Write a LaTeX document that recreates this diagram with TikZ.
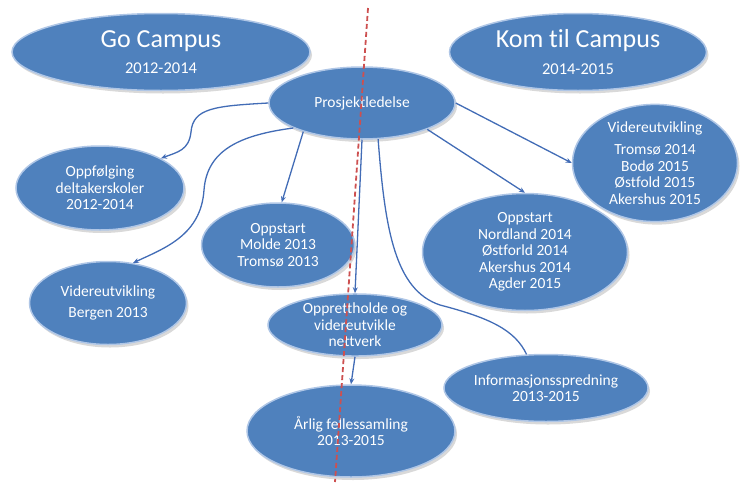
\documentclass[tikz,border=0pt]{standalone}
\usepackage{fontspec}
\setmainfont{Carlito}[Ligatures=NoCommon]
\usetikzlibrary{shapes.geometric,arrows.meta,shadows}
\definecolor{ovalblue}{RGB}{79,129,189}
\definecolor{ovalrim}{RGB}{175,198,230}
\definecolor{linkblue}{RGB}{66,108,182}
\definecolor{cutred}{RGB}{205,80,80}

\begin{document}
\begin{tikzpicture}[x=1pt,y=-1pt,
  oval/.style={ellipse, fill=ovalblue, draw=ovalrim, line width=1.5pt, text=white, inner sep=0pt, align=center,
    font=\fontsize{15.5}{16.5}\selectfont, drop shadow={opacity=0.3,shadow xshift=2pt,shadow yshift=-3pt}},
  link/.style={draw=linkblue, line width=1.3pt, -{Stealth[length=6pt,width=5pt]}},
  cut/.style={draw=cutred, line width=1.8pt, dash pattern=on 5pt off 3pt}]
\useasboundingbox (0,0) rectangle (743,482);

\node[oval, minimum width=298pt, minimum height=77pt] (go) at (161,52) {{\fontsize{26}{28}\selectfont Go Campus}\\[10pt]{\fontsize{16.5}{18}\selectfont 2012-2014}};
\node[oval, minimum width=257pt, minimum height=77pt] (kom) at (578,52) {{\fontsize{26}{28}\selectfont Kom til Campus}\\[10pt]{\fontsize{16.5}{18}\selectfont 2014-2015}};
\node[oval, minimum width=186pt, minimum height=72pt] (pl) at (362,103) {Prosjektledelse};
\node[oval, minimum width=168pt, minimum height=84pt] (oppf) at (100,188) {Oppfølging\\deltakerskoler\\2012-2014};
\node[oval, minimum width=153pt, minimum height=84pt] (molde) at (278,245) {Oppstart\\Molde 2013\\Tromsø 2013};
\node[oval, minimum width=157pt, minimum height=83pt] (bergen) at (108,303) {Videreutvikling\\[5pt]Bergen 2013};
\node[oval, minimum width=174pt, minimum height=60pt] (oppr) at (355,325) {Opprettholde og\\videreutvikle\\nettverk};
\node[oval, minimum width=208pt, minimum height=92pt] (arlig) at (351,431) {Årlig fellessamling\\2013-2015};
\node[oval, minimum width=205pt, minimum height=117pt] (nord) at (525,252) {Oppstart\\Nordland 2014\\Østforld 2014\\Akershus 2014\\Agder 2015};
\node[oval, minimum width=178pt, minimum height=67pt] (info) at (546,388) {Informasjonsspredning\\2013-2015};
\node[oval, minimum width=165pt, minimum height=107pt] (trom) at (655,163) {Videreutvikling\\[6pt]Tromsø 2014\\Bodø 2015\\Østfold 2015\\Akershus 2015};

\draw[link] (pl.west) .. controls (215,106) and (193,108) .. (191,132) .. controls (189,150) and (178,152) .. (oppf.26);
\draw[link] (pl.200) .. controls (240,135) and (207,150) .. (204,190) .. controls (201,235) and (165,248) .. (bergen.58);
\draw[link] (pl.206) -- (molde.85);
\draw[link] (pl.south) -- (oppr.north);
\draw[link] (oppr.south) -- (arlig.north);
\draw[link] (pl.-22) -- (nord.north);
\draw[link] (pl.east) -- (trom.west);
\draw[link,-] (pl.-66) .. controls (385,230) and (395,290) .. (440,305) .. controls (490,318) and (515,330) .. (info.120);

\coordinate (cuttop) at (368,8);
\coordinate (cutbot) at (335,482);
\draw[cut] (cuttop) -- (cutbot);
\end{tikzpicture}
\end{document}
